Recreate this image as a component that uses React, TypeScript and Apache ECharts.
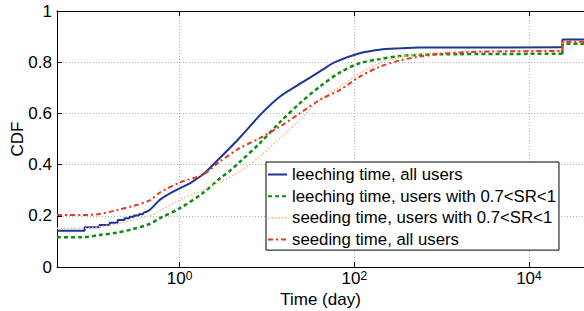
import React, { useEffect, useRef } from "react";
import * as echarts from "echarts";

// ---- data (days, CDF) ----
// leeching time, all users: stair steps at short times, smooth body, jump near 2.4e4 days
const leechAllStepDays = [0.0394, 0.0816, 0.0816, 0.121, 0.121, 0.158, 0.158, 0.195, 0.195, 0.234, 0.234, 0.267, 0.267, 0.3, 0.3, 0.34, 0.34, 0.38, 0.38];
const leechAllStepCdf = [0.142, 0.142, 0.155, 0.155, 0.164, 0.164, 0.173, 0.173, 0.184, 0.184, 0.19, 0.19, 0.196, 0.196, 0.201, 0.201, 0.206, 0.206, 0.211];
const leechAllDays = [0.38, 0.45, 0.59, 0.75, 1, 1.35, 1.83, 2.87, 4.87, 8.7, 14, 23.7, 40, 60, 115, 195, 331, 561, 1000, 24200];
const leechAllCdf = [0.211, 0.222, 0.262, 0.285, 0.307, 0.33, 0.36, 0.425, 0.505, 0.6, 0.665, 0.715, 0.763, 0.8, 0.835, 0.849, 0.854, 0.857, 0.857, 0.858];
const leechAllTailDays = [24200, 24200, 42700];
const leechAllTailCdf = [0.858, 0.889, 0.889];

// leeching time, users with 0.7<SR<1
const leechSrDays = [0.0394, 0.0774, 0.121, 0.19, 0.29, 0.453, 0.59, 1, 1.83, 2.87, 3.74, 4.87, 8.25, 14, 23.7, 40, 68, 115, 195, 331, 561, 951, 24200];
const leechSrCdf = [0.116, 0.116, 0.125, 0.134, 0.148, 0.168, 0.19, 0.229, 0.288, 0.345, 0.375, 0.41, 0.483, 0.565, 0.639, 0.704, 0.759, 0.796, 0.812, 0.824, 0.829, 0.831, 0.833];
const leechSrTailDays = [24200, 24200, 42700];
const leechSrTailCdf = [0.833, 0.872, 0.872];

// seeding time, users with 0.7<SR<1
const seedSrDays = [0.0394, 0.0774, 0.19, 0.29, 0.453, 0.59, 1, 1.83, 4.5, 8.25, 14, 23.7, 40, 68, 115, 195, 331, 561, 951, 1940, 24200];
const seedSrCdf = [0.151, 0.151, 0.168, 0.184, 0.2, 0.22, 0.262, 0.3, 0.366, 0.431, 0.503, 0.574, 0.652, 0.704, 0.756, 0.796, 0.82, 0.832, 0.838, 0.843, 0.845];
const seedSrTailDays = [24200, 24200, 42700];
const seedSrTailCdf = [0.845, 0.88, 0.88];

// seeding time, all users
const seedAllDays = [0.0394, 0.0774, 0.121, 0.19, 0.29, 0.453, 0.59, 1, 1.83, 2.87, 4.87, 8.25, 14, 23.7, 40, 68, 115, 195, 331, 561, 951, 1940, 4630, 24200];
const seedAllCdf = [0.203, 0.203, 0.207, 0.222, 0.238, 0.26, 0.29, 0.33, 0.36, 0.411, 0.464, 0.503, 0.548, 0.6, 0.652, 0.691, 0.743, 0.782, 0.807, 0.822, 0.832, 0.839, 0.842, 0.844];
const seedAllTailDays = [24200, 24200, 42700];
const seedAllTailCdf = [0.844, 0.88, 0.88];

const seriesNames = [
  "leeching time, all users",
  "leeching time, users with 0.7<SR<1",
  "seeding time, users with 0.7<SR<1",
  "seeding time, all users",
];
const yTicks = [0, 0.2, 0.4, 0.6, 0.8, 1];
const xMin = 0.0394;
const xMax = 42700;

const FONT = "Liberation Sans";

function zip(xs: number[], ys: number[]) {
  return xs.map((x, i) => [x, ys[i]]);
}

export default function App() {
  const ref = useRef<HTMLDivElement>(null);
  useEffect(() => {
    if (!ref.current) return;
    const chart = echarts.init(ref.current, null, { renderer: "svg" });
    const xLabelFmt = (v: number) => {
      const e = Math.log10(v);
      const r = Math.round(e);
      if (Math.abs(e - r) > 1e-6) return "";
      return `{b|10}{sup|${r}}`;
    };
    const baseX = {
      type: "log" as const,
      logBase: 100,
      min: xMin,
      max: xMax,
      gridIndex: 0,
    };
    const styles = [
      { color: "#1d3597", width: 2 },
      { color: "#0f8a12", width: 2.5, type: [4, 3] },
      { color: "#f7bd8a", width: 1.5, type: [1.5, 2] },
      { color: "#e5391c", width: 2, type: [5, 3, 2, 3] },
    ];
    const mk = (idx: number, data: number[][], smooth: number | boolean) => ({
      type: "line" as const,
      name: seriesNames[idx],
      xAxisIndex: 0,
      symbol: "none",
      smooth,
      data,
      lineStyle: styles[idx],
      itemStyle: { color: styles[idx].color },
      z: 2 + idx,
    });
    chart.setOption({
      animation: false,
      backgroundColor: "#fff",
      textStyle: { fontFamily: FONT },
      grid: { left: 57, right: 0, top: 11, bottom: 44, containLabel: false, outerBoundsMode: "none" },
      xAxis: [
        {
          ...baseX,
          position: "bottom",
          name: "Time (day)",
          nameLocation: "middle",
          nameGap: 25,
          nameMoveOverlap: false,
          nameTextStyle: { fontSize: 17, lineHeight: 14, color: "#000", fontFamily: FONT, verticalAlign: "top" },
          axisLine: { show: true, lineStyle: { color: "#000", width: 1 } },
          axisTick: { show: true, inside: true, length: 5, lineStyle: { color: "#000" } },
          minorTick: { show: false },
          axisLabel: {
            margin: 3,
            color: "#000",
            formatter: xLabelFmt,
            rich: {
              b: { fontSize: 17, lineHeight: 17, fontFamily: FONT, color: "#000", verticalAlign: "bottom" },
              sup: { fontSize: 12, lineHeight: 12, fontFamily: FONT, color: "#000", verticalAlign: "top", padding: [0, 0, 9, 0] },
            },
          },
          splitLine: {
            show: true,
            showMinLine: false,
            showMaxLine: false,
            lineStyle: { color: "#b4b4b4", type: [1, 2], width: 1 },
          },
        },
        {
          ...baseX,
          position: "top",
          axisLine: { show: true, onZero: false, lineStyle: { color: "#000", width: 1 } },
          axisTick: { show: true, inside: true, length: 5, lineStyle: { color: "#000" } },
          axisLabel: { show: false },
          splitLine: { show: false },
        },
      ],
      yAxis: {
        type: "value",
        min: 0,
        max: 1,
        interval: 0.2,
        name: "CDF",
        nameLocation: "middle",
        nameGap: 31,
        nameMoveOverlap: false,
        nameTextStyle: { fontSize: 17, color: "#000", fontFamily: FONT },
        axisLine: { show: true, lineStyle: { color: "#000", width: 1 } },
        axisTick: { show: true, inside: true, length: 5, lineStyle: { color: "#000" } },
        axisLabel: {
          margin: 5,
          fontSize: 17,
          color: "#000",
          fontFamily: FONT,
          customValues: yTicks,
          formatter: (v: number) => String(Math.round(v * 10) / 10),
        },
        splitLine: {
          show: true,
          showMinLine: false,
          showMaxLine: false,
          lineStyle: { color: "#b4b4b4", type: [1, 2], width: 1 },
        },
      },
      legend: {
        orient: "vertical",
        left: 266,
        top: 162,
        backgroundColor: "#fff",
        borderColor: "#000",
        borderWidth: 1,
        borderRadius: 0,
        padding: [4, 3, 2, 1],
        itemWidth: 19,
        itemHeight: 14,
        itemGap: 4.7,
        itemStyle: { color: "transparent", borderColor: "transparent", borderWidth: 0, opacity: 0 },
        textStyle: { fontSize: 16.8, fontFamily: FONT, color: "#000", lineHeight: 16 },
        data: seriesNames,
      },
      series: [
        mk(0, zip(leechAllStepDays, leechAllStepCdf), false),
        mk(0, zip(leechAllDays, leechAllCdf), 0.3),
        mk(0, zip(leechAllTailDays, leechAllTailCdf), false),
        mk(1, zip(leechSrDays, leechSrCdf), 0.3),
        mk(1, zip(leechSrTailDays, leechSrTailCdf), false),
        mk(2, zip(seedSrDays, seedSrCdf), 0.3),
        mk(2, zip(seedSrTailDays, seedSrTailCdf), false),
        mk(3, zip(seedAllDays, seedAllCdf), 0.3),
        mk(3, zip(seedAllTailDays, seedAllTailCdf), false),
      ],
    });
    return () => chart.dispose();
  }, []);
  return (
    <div
      ref={ref}
      style={{ position: "absolute", left: 0, top: 0, width: 584, height: 311 }}
    />
  );
}
